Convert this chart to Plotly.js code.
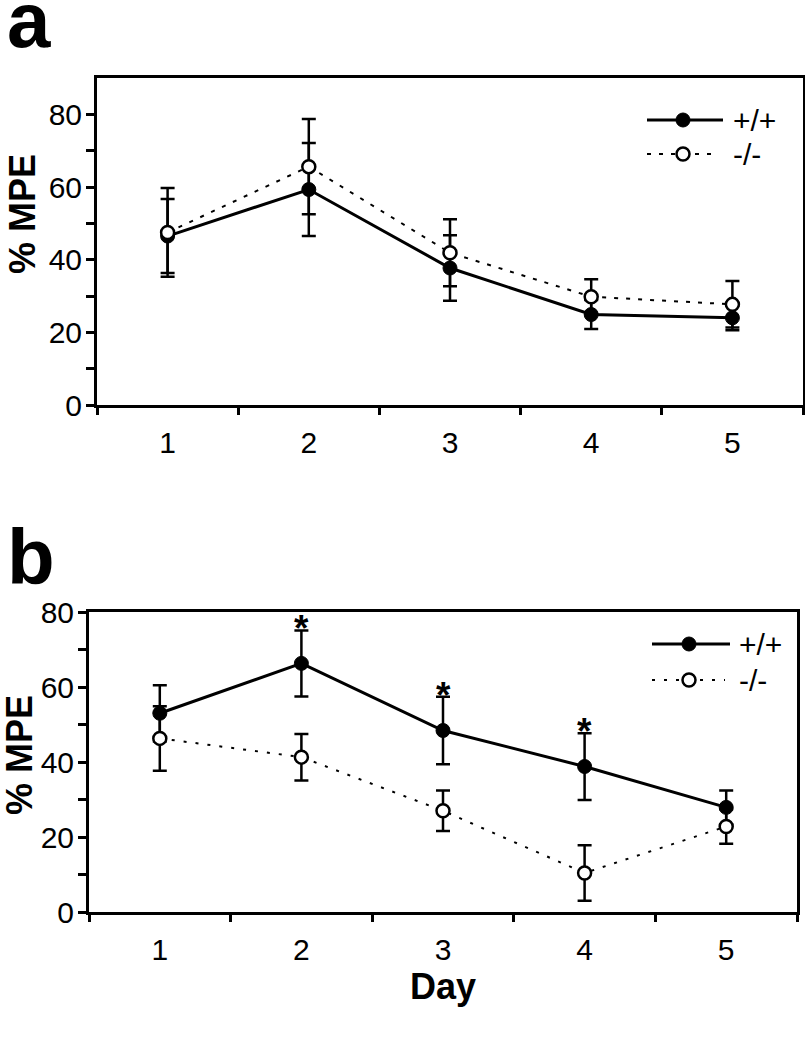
<!DOCTYPE html>
<html><head><meta charset="utf-8">
<script src="https://cdn.plot.ly/plotly-3.0.1.min.js"></script>
<style>html,body{margin:0;padding:0;background:#fff}</style>
</head><body><div id="chart" style="width:805px;height:1050px"></div>
<script>
// ---- data ----
const days = ["1", "2", "3", "4", "5"];
const seriesNames = ["+/+", "-/-"];
// panel a
const aWT = [46.5, 59.3, 37.7, 24.9, 24.0];
const aWTerr = [10.2, 12.8, 9.0, 4.0, 3.4];
const aKO = [47.5, 65.6, 41.9, 29.8, 27.7];
const aKOerr = [12.2, 13.1, 9.2, 4.8, 6.4];
// panel b
const bWT = [53.0, 66.3, 48.4, 38.8, 27.9];
const bWTerr = [7.5, 8.8, 9.0, 8.9, 4.5];
const bKO = [46.3, 41.3, 27.0, 10.4, 22.8];
const bKOerr = [8.6, 6.2, 5.4, 7.4, 4.6];
const sigDays = ["2", "3", "4"];
const yTickVals = [0, 10, 20, 30, 40, 50, 60, 70, 80];
const yTickText = ["0", "", "20", "", "40", "", "60", "", "80"];
const panelLabels = ["a", "b"];
const yTitle = "% MPE";
const xTitle = "Day";

// ---- helpers ----
const W = 805, H = 1050;
const px = x => x / W;
const py = y => 1 - y / H;
const FONT = "Liberation Sans, Arial, Helvetica, sans-serif";

function wt(y, err, xa, ya) {
  return {type: 'scatter', mode: 'lines+markers', x: days, y: y, xaxis: xa, yaxis: ya,
    name: seriesNames[0], showlegend: false, cliponaxis: false,
    line: {color: '#000', width: 3},
    marker: {symbol: 'circle', size: 14, color: '#000', line: {color: '#000', width: 1}},
    error_y: {type: 'data', array: err, visible: true, color: '#000', thickness: 2.5, width: 7}};
}
function ko(y, err, xa, ya, dash) {
  return {type: 'scatter', mode: 'lines+markers', x: days, y: y, xaxis: xa, yaxis: ya,
    name: seriesNames[1], showlegend: false, cliponaxis: false,
    line: {color: '#000', width: 2, dash: dash},
    marker: {symbol: 'circle', size: 13, color: '#fff', line: {color: '#000', width: 2.5}},
    error_y: {type: 'data', array: err, visible: true, color: '#000', thickness: 2.5, width: 7}};
}

const traces = [
  wt(aWT, aWTerr, 'x', 'y'), ko(aKO, aKOerr, 'x', 'y', '4px,8px'),
  wt(bWT, bWTerr, 'x2', 'y2'), ko(bKO, bKOerr, 'x2', 'y2', '3px,9px')
];

function xax(domain, anchor, title) {
  const ax = {domain: domain, anchor: anchor, type: 'category', range: [-0.5, 4.5],
    tickson: 'boundaries', ticks: 'outside', ticklen: 7, tickwidth: 3, tickcolor: '#000',
    showline: true, linewidth: 3, linecolor: '#000', mirror: true,
    showgrid: false, zeroline: false, fixedrange: true,
    tickfont: {family: FONT, size: 30, color: '#000'}, ticklabelstandoff: 9};
  if (title) ax.title = {text: title, font: {family: FONT, size: 36, color: '#000', weight: 'bold'}, standoff: 2};
  return ax;
}
function yax(domain, anchor, range) {
  return {domain: domain, anchor: anchor, range: range,
    tickmode: 'array', tickvals: yTickVals, ticktext: yTickText,
    ticks: 'outside', ticklen: 8, tickwidth: 3, tickcolor: '#000',
    showline: true, linewidth: 3, linecolor: '#000', mirror: true,
    showgrid: false, zeroline: false, fixedrange: true,
    tickfont: {family: FONT, size: 30, color: '#000'}, ticklabelstandoff: -2};
}

const annotations = [];
// panel letters
annotations.push({xref: 'paper', yref: 'paper', x: px(5), y: py(0), xanchor: 'left', yanchor: 'top',
  height: 62, valign: 'bottom', yshift: 0,
  text: '<b>' + panelLabels[0] + '</b>', showarrow: false, font: {family: FONT, size: 78, color: '#000'}});
annotations.push({xref: 'paper', yref: 'paper', x: px(5), y: py(585), xanchor: 'left', yanchor: 'bottom', yshift: -18,
  text: '<b>' + panelLabels[1] + '</b>', showarrow: false, font: {family: FONT, size: 78, color: '#000'}});
// y titles
annotations.push({xref: 'paper', yref: 'paper', x: px(22), y: py(214), xanchor: 'center', yanchor: 'middle', textangle: -90,
  height: 38, text: '<b>' + yTitle + '</b>', showarrow: false, font: {family: FONT, size: 36, color: '#000'}});
annotations.push({xref: 'paper', yref: 'paper', x: px(19), y: py(755), xanchor: 'center', yanchor: 'middle', textangle: -90,
  height: 38, text: '<b>' + yTitle + '</b>', showarrow: false, font: {family: FONT, size: 36, color: '#000'}});
// significance asterisks
sigDays.forEach(d => {
  const i = days.indexOf(d);
  annotations.push({xref: 'x2', yref: 'y2', x: i, y: bWT[i] + bWTerr[i], xanchor: 'center', yanchor: 'bottom', yshift: -21,
    text: '<b>*</b>', showarrow: false, font: {family: FONT, size: 37, color: '#000'}});
});

// custom legends (drawn in page pixels)
const shapes = [];
function legend(x0, x1, xm, xt, y1, y2, dash) {
  shapes.push({type: 'line', xref: 'paper', yref: 'paper', x0: px(x0), x1: px(x1), y0: py(y1), y1: py(y1), line: {color: '#000', width: 3}});
  shapes.push({type: 'circle', xref: 'paper', yref: 'paper', xsizemode: 'pixel', ysizemode: 'pixel',
    xanchor: px(xm), yanchor: py(y1), x0: -7, x1: 7, y0: -7, y1: 7, fillcolor: '#000', line: {color: '#000', width: 1}});
  shapes.push({type: 'line', xref: 'paper', yref: 'paper', x0: px(x0), x1: px(x1 - 5), y0: py(y2), y1: py(y2), line: {color: '#000', width: 2, dash: dash}});
  shapes.push({type: 'circle', xref: 'paper', yref: 'paper', xsizemode: 'pixel', ysizemode: 'pixel',
    xanchor: px(xm), yanchor: py(y2), x0: -6.5, x1: 6.5, y0: -6.5, y1: 6.5, fillcolor: '#fff', line: {color: '#000', width: 2.5}});
  annotations.push({xref: 'paper', yref: 'paper', x: px(xt), y: py(y1), xanchor: 'left', yanchor: 'middle',
    text: seriesNames[0], showarrow: false, font: {family: FONT, size: 30, color: '#000'}});
  annotations.push({xref: 'paper', yref: 'paper', x: px(xt), y: py(y2), xanchor: 'left', yanchor: 'middle',
    text: seriesNames[1], showarrow: false, font: {family: FONT, size: 30, color: '#000'}});
}
legend(647, 723, 683, 731, 120, 154, '4px,8px');
legend(652, 730, 689, 737, 644, 680, '3px,9px');

const layout = {
  width: W, height: H, margin: {l: 0, r: 0, t: 0, b: 0},
  paper_bgcolor: '#fff', plot_bgcolor: '#fff', showlegend: false,
  font: {family: FONT, color: '#000'},
  xaxis: xax([px(97), px(803)], 'y', null),
  yaxis: yax([py(405), py(78)], 'x', [0, 90]),
  xaxis2: xax([px(89), px(797)], 'y2', xTitle),
  yaxis2: yax([py(912), py(612)], 'x2', [0, 80]),
  annotations: annotations, shapes: shapes
};

Plotly.newPlot('chart', traces, layout, {displayModeBar: false, staticPlot: true});
</script></body></html>
